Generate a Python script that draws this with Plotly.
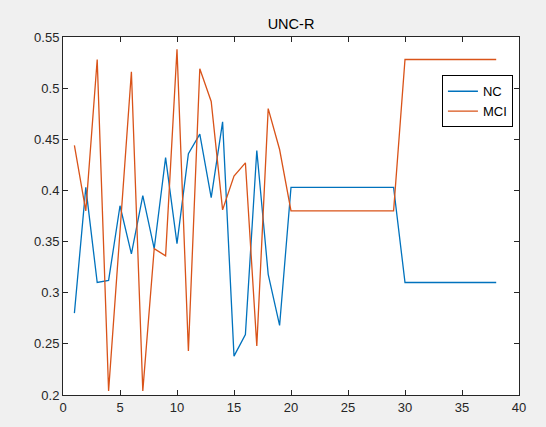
import plotly.graph_objects as go

x_vals = list(range(1, 39))
nc = [0.280, 0.403, 0.310, 0.312, 0.385, 0.338, 0.395, 0.343, 0.432, 0.348,
      0.436, 0.455, 0.393, 0.467, 0.238, 0.259, 0.439, 0.318, 0.268,
      0.403, 0.403, 0.403, 0.403, 0.403, 0.403, 0.403, 0.403, 0.403, 0.403,
      0.310, 0.310, 0.310, 0.310, 0.310, 0.310, 0.310, 0.310, 0.310]
mci = [0.444, 0.380, 0.528, 0.204, 0.360, 0.516, 0.204, 0.343, 0.336, 0.538,
       0.243, 0.519, 0.487, 0.381, 0.414, 0.427, 0.248, 0.480, 0.440,
       0.380, 0.380, 0.380, 0.380, 0.380, 0.380, 0.380, 0.380, 0.380, 0.380,
       0.528, 0.528, 0.528, 0.528, 0.528, 0.528, 0.528, 0.528, 0.528]
x_ticks = [0, 5, 10, 15, 20, 25, 30, 35, 40]
y_ticks = [0.2, 0.25, 0.3, 0.35, 0.4, 0.45, 0.5, 0.55]
y_labels = ["0.2", "0.25", "0.3", "0.35", "0.4", "0.45", "0.5", "0.55"]

axcol = "#262626"
font = "Liberation Sans, Arial, sans-serif"

fig = go.Figure()
fig.add_trace(go.Scatter(x=x_vals, y=nc, mode="lines", name="NC",
                         line=dict(color="#0072BD", width=1.3)))
fig.add_trace(go.Scatter(x=x_vals, y=mci, mode="lines", name="MCI",
                         line=dict(color="#D95319", width=1.3)))

fig.update_layout(
    width=546, height=427,
    margin=dict(l=63, r=27, t=37, b=29),
    paper_bgcolor="#f0f0f0", plot_bgcolor="white",
    font=dict(family=font, size=13, color=axcol),
    title=dict(text="UNC-R", x=0.5, xref="paper", xanchor="center",
               y=1 - 24 / 427, yref="container", yanchor="middle",
               font=dict(family=font, size=14.5, color="#000000")),
    showlegend=True,
    legend=dict(x=0.831, y=0.893, xanchor="left", yanchor="top",
                bgcolor="white", bordercolor="#000000", borderwidth=1,
                font=dict(family=font, size=13, color="#000000"),
                tracegroupgap=0, itemwidth=30),
    xaxis=dict(range=[0, 40], tickvals=x_ticks, ticks="inside", ticklen=5,
               tickcolor=axcol, showline=True, linecolor=axcol, linewidth=1,
               mirror="allticks", showgrid=False, zeroline=False),
    yaxis=dict(range=[0.2, 0.55], tickvals=y_ticks, ticktext=y_labels,
               ticks="inside", ticklen=5, tickcolor=axcol, showline=True,
               linecolor=axcol, linewidth=1, mirror="allticks",
               showgrid=False, zeroline=False),
)

fig.write_html("out.html")
